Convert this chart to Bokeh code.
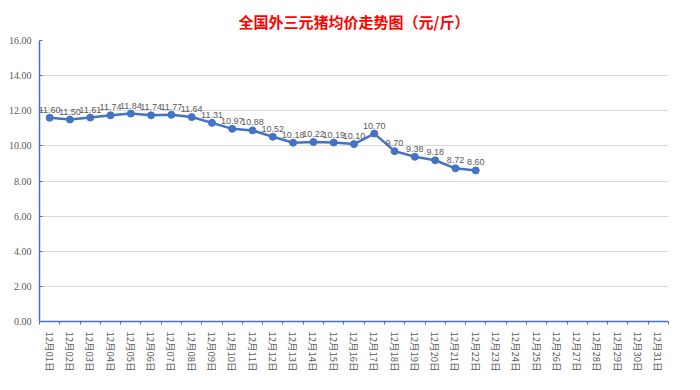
from bokeh.plotting import figure
from bokeh.models import ColumnDataSource, FixedTicker, NumeralTickFormatter, Range1d
from bokeh.embed import file_html
from bokeh.resources import INLINE
from bokeh.core.properties import value

days = [f"12月{d:02d}日" for d in range(1, 32)]
prices = [11.60, 11.50, 11.61, 11.74, 11.84, 11.74, 11.77, 11.64, 11.31, 10.97, 10.88,
          10.52, 10.18, 10.22, 10.19, 10.10, 10.70, 9.70, 9.38, 9.18, 8.72, 8.60]
y_ticks = [0, 2, 4, 6, 8, 10, 12, 14, 16]

xs = list(range(len(prices)))
src = ColumnDataSource(dict(x=xs, y=prices, lbl=[f"{v:.2f}" for v in prices]))

p = figure(width=684, height=374, output_backend="svg", toolbar_location=None,
           x_range=Range1d(-0.5, len(days) - 0.5), y_range=Range1d(0, 16),
           min_border_left=39, min_border_right=16, min_border_top=8, min_border_bottom=44)
p.title.text = "全国外三元猪均价走势图（元/斤）"
p.title.align = "center"
p.title.text_color = "#FF0000"
p.title.text_font = "Noto Sans CJK SC"
p.title.text_font_size = "15px"
p.title.text_font_style = "bold"
p.title.standoff = 17
p.outline_line_color = None
p.background_fill_color = "white"
p.border_fill_color = "white"

p.line("x", "y", source=src, line_color="#4472C4", line_width=2.5)
p.scatter("x", "y", source=src, size=7, fill_color="#4472C4", line_color="#4472C4")
p.text("x", "y", text="lbl", source=src, text_align="center", text_baseline="bottom",
       y_offset=-5, text_font_size="9px", text_color="#595959", text_font=value("Liberation Sans"))

# x axis
xa = p.xaxis[0]
xa.ticker = FixedTicker(ticks=list(range(len(days))),
                        minor_ticks=[i + 0.5 for i in range(-1, len(days))])
xa.major_label_overrides = {i: d for i, d in enumerate(days)}
xa.major_label_orientation = "vertical"
xa.major_tick_line_color = None
xa.minor_tick_line_color = "#4472C4"
xa.minor_tick_in = 0
xa.minor_tick_out = 3
xa.axis_line_color = "#4472C4"
xa.axis_line_width = 1.5
xa.major_label_text_font = "Noto Sans CJK SC"
xa.major_label_text_font_size = "9.5px"
xa.major_label_text_color = "#595959"
xa.major_label_standoff = 4

# y axis
ya = p.yaxis[0]
ya.ticker = FixedTicker(ticks=y_ticks)
ya.formatter = NumeralTickFormatter(format="0.00")
ya.axis_line_color = "#4472C4"
ya.axis_line_width = 1.5
ya.major_tick_line_color = "#4472C4"
ya.major_tick_in = 3
ya.major_tick_out = 0
ya.minor_tick_line_color = None
ya.major_label_text_font_size = "10px"
ya.major_label_text_color = "#595959"
ya.major_label_text_font = "Liberation Serif"
ya.major_label_standoff = 8

p.xgrid.grid_line_color = None
p.ygrid.grid_line_color = "#D9D9D9"
p.ygrid.ticker = FixedTicker(ticks=y_ticks)

open("out.html", "w").write(file_html(p, INLINE))
